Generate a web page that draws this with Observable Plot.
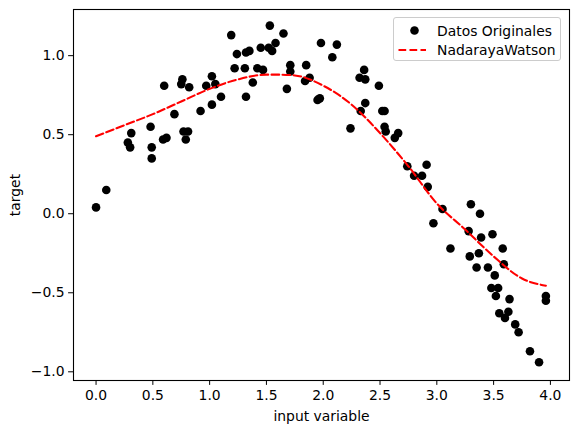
<!DOCTYPE html>
<html>
<head>
<meta charset="utf-8">
<script src="https://cdn.jsdelivr.net/npm/d3@7"></script>
<script src="https://cdn.jsdelivr.net/npm/@observablehq/plot@0.6"></script>
<style>
  html, body { margin: 0; padding: 0; background: #fff; }
  #wrap { position: relative; width: 578px; height: 432px; font-family: "DejaVu Sans", sans-serif; }
  #legend { position: absolute; left: 393px; top: 17px; width: 168px; height: 44px;
    border: 1px solid #cccccc; border-radius: 3px; background: rgba(255,255,255,0.8);
    font-size: 13.9px; color: #000; box-sizing: border-box; }
  .row { position: absolute; left: 0; height: 18px; display: flex; align-items: center; }
  .row span { position: absolute; left: 43px; white-space: nowrap; }
</style>
</head>
<body>
<div id="wrap"></div>
<script>
// Scatter data (input variable, target)
const xs = [0.00,0.09,0.28,0.30,0.31,0.48,0.49,0.49,0.59,0.62,0.60,0.69,0.76,0.75,0.82,0.77,0.81,0.79,0.92,1.02,
  0.97,1.05,1.02,1.10,1.19,1.24,1.32,1.35,1.22,1.31,1.32,1.53,1.65,1.58,1.45,1.52,1.55,1.42,1.47,1.38,
  1.68,1.71,1.71,1.85,1.84,1.88,1.98,2.12,2.08,1.97,1.95,2.36,2.32,2.37,2.49,2.37,2.33,2.52,2.54,2.24,
  2.54,2.55,2.63,2.66,2.74,2.80,2.87,2.91,2.92,3.05,2.97,3.12,3.30,3.38,3.28,3.39,3.49,3.37,3.29,3.58,
  3.59,3.35,3.45,3.51,3.48,3.54,3.52,3.64,3.55,3.63,3.60,3.69,3.72,3.82,3.90,3.96,3.96];
const ys = [0.04,0.15,0.45,0.42,0.51,0.55,0.42,0.35,0.47,0.48,0.81,0.63,0.85,0.82,0.80,0.52,0.52,0.47,0.65,0.87,
  0.81,0.82,0.69,0.74,1.13,1.01,1.02,1.03,0.92,0.92,0.74,1.19,1.14,1.08,1.05,1.05,1.03,0.92,0.91,0.83,
  0.79,0.94,0.90,0.94,0.84,0.86,1.08,1.07,0.99,0.73,0.72,0.91,0.86,0.85,0.81,0.70,0.65,0.65,0.65,0.54,
  0.55,0.52,0.48,0.51,0.30,0.24,0.24,0.31,0.17,0.03,-0.06,-0.22,0.06,0.00,-0.11,-0.15,-0.13,-0.25,-0.27,-0.22,
  -0.32,-0.34,-0.34,-0.39,-0.47,-0.47,-0.52,-0.54,-0.63,-0.62,-0.66,-0.70,-0.75,-0.87,-0.94,-0.52,-0.55];

// Nadaraya-Watson fitted curve
const curveX = [0.00,0.25,0.50,0.75,1.00,1.25,1.50,1.60,1.75,2.00,2.25,2.50,2.75,3.00,3.25,3.50,3.75,3.96];
const curveY = [0.49,0.56,0.63,0.71,0.79,0.85,0.88,0.88,0.875,0.81,0.69,0.51,0.30,0.065,-0.10,-0.27,-0.41,-0.455];

const xTicks = [0,0.5,1,1.5,2,2.5,3,3.5,4];
const yTicks = [-1,-0.5,0,0.5,1];
const seriesNames = ["Datos Originales", "NadarayaWatson"];

const points = xs.map((x, i) => ({x, y: ys[i]}));
const curve = curveX.map((x, i) => ({x, y: curveY[i]}));
const fmt = d => d.toFixed(1).replace("-", "\u2212");

const chart = Plot.plot({
  width: 578, height: 432,
  marginLeft: 73, marginRight: 9, marginTop: 9, marginBottom: 52,
  style: { fontFamily: "DejaVu Sans, sans-serif", fontSize: "13.9px", color: "#000", background: "#fff" },
  x: { domain: [-0.1985, 4.168] },
  y: { domain: [-1.055, 1.292] },
  marks: [
    Plot.axisX({ ticks: xTicks, tickFormat: fmt, tickSize: 4.9, tickPadding: 5, label: "input variable",
      labelAnchor: "center", labelArrow: "none", labelOffset: 40, fontSize: 13.9 }),
    Plot.axisY({ ticks: yTicks, tickFormat: fmt, tickSize: 4.9, tickPadding: 4, label: "target",
      labelAnchor: "center", labelArrow: "none", labelOffset: 63, fontSize: 13.9 }),
    Plot.dot(points, { x: "x", y: "y", r: 4.3, fill: "black", stroke: "none" }),
    Plot.line(curve, { x: "x", y: "y", stroke: "red", strokeWidth: 2.08, strokeDasharray: "7.7,3.3", curve: "monotone-x" }),
    Plot.frame({ stroke: "black", strokeWidth: 1.1 })
  ]
});

const wrap = document.getElementById("wrap");
wrap.appendChild(chart);

const legend = document.createElement("div");
legend.id = "legend";
legend.innerHTML = `
  <div class="row" style="top:4px;">
    <svg width="40" height="18" style="position:absolute;left:0;top:0"><circle cx="20.5" cy="8.5" r="4.3" fill="black"/></svg>
    <span>${seriesNames[0]}</span>
  </div>
  <div class="row" style="top:23px;">
    <svg width="40" height="18" style="position:absolute;left:0;top:0"><line x1="4.5" x2="32" y1="9" y2="9" stroke="red" stroke-width="2.08" stroke-dasharray="7.7,3.3"/></svg>
    <span>${seriesNames[1]}</span>
  </div>`;
wrap.appendChild(legend);
</script>
</body>
</html>
